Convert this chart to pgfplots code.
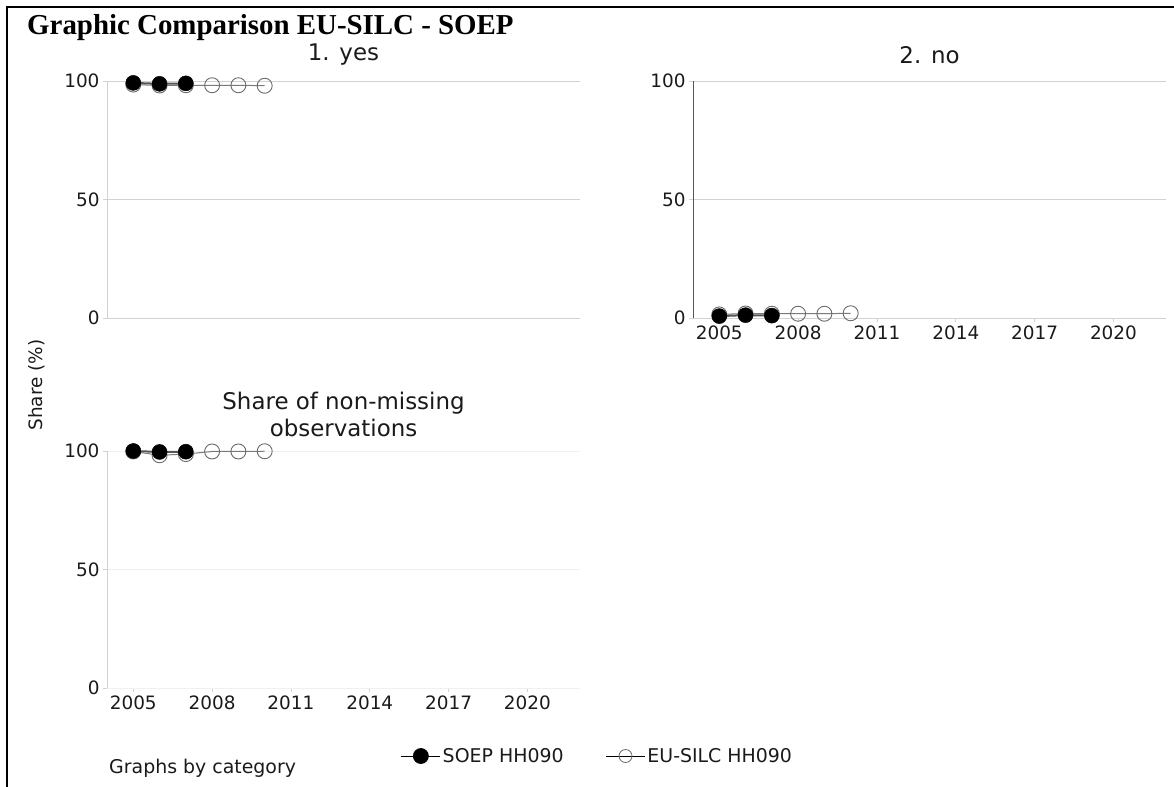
\documentclass[border=0pt]{standalone}
\usepackage{pgfplots}
\pgfplotsset{compat=1.18}
\usepackage{fontspec}
\setmainfont{DejaVu Sans}
\newfontfamily\titlefont{Liberation Serif}
\definecolor{gridc}{HTML}{D2D2D2}
\definecolor{gridl}{HTML}{F0F0F0}
\definecolor{soepline}{HTML}{555555}
\definecolor{eucol}{HTML}{7A7A7A}
\definecolor{eumark}{HTML}{6A6A6A}
\definecolor{txt}{HTML}{1A1A1A}
\pgfplotsset{
  panel/.style={
    scale only axis, width=473bp, height=237bp,
    xmin=2004, xmax=2022, ymin=0, ymax=100,
    ytick={0,50,100}, ymajorgrids,
    grid style={gridc, line width=0.8bp},
    axis x line*=bottom, axis y line*=left,
    x axis line style={gridc,-}, y axis line style={gridc,-},
    tick align=outside, major tick length=4bp,
    tick style={gridc, line width=0.8bp},
    clip=false,
    ticklabel style={font=\fontsize{18.5}{20}\selectfont, text=txt},
    /pgf/number format/assume math mode=true,
    /pgf/number format/1000 sep={},
    title style={font=\fontsize{23}{27}\selectfont, text=txt, align=center},
  },
  eus/.style={color=eucol, line width=1bp, mark=o, mark size=7.5bp,
    mark options={draw=eumark, fill=none, line width=0.9bp}},
  soep/.style={color=soepline, line width=2bp, mark=*, mark size=7.5bp,
    mark options={draw=black, fill=black, line width=0.5bp}},
}
\begin{document}
\begin{tikzpicture}
\path[use as bounding box] (0,0) rectangle (1174bp,787bp);
\draw[black, line width=2.5bp] (7bp,0) -- (7bp,780bp) -- (1174bp,780bp);
\node[anchor=base west, font=\titlefont\bfseries\fontsize{29}{32}\selectfont, inner sep=0pt] at (27bp,752bp) {Graphic Comparison EU-SILC - SOEP};
\node[rotate=90, font=\fontsize{18.5}{20}\selectfont, text=txt, inner sep=0pt] at (37bp,402bp) {Share (\%)};
\node[anchor=west, font=\fontsize{19}{20}\selectfont, text=txt, inner sep=0pt] at (109bp,19bp) {Graphs by category};

% Panel 1: yes
\begin{axis}[panel, at={(107bp,469bp)}, anchor=south west, xtick=\empty,
  title={1. yes}, title style={at={(0.5,1)}, anchor=center, yshift=20bp}]
\addplot[eus] coordinates {(2005,98.5)(2006,98.1)(2007,98.2)(2008,98.2)(2009,98.2)(2010,98.0)};
\addplot[soep] coordinates {(2005,99.2)(2006,98.8)(2007,99.0)};
\end{axis}

% Panel 2: no
\begin{axis}[panel, at={(693bp,469bp)}, anchor=south west,
  xtick={2005,2008,2011,2014,2017,2020},
  y axis line style={soepline},
  title={2. no}, title style={at={(0.5,1)}, anchor=center, yshift=20bp}]
\addplot[eus] coordinates {(2005,1.5)(2006,1.9)(2007,1.8)(2008,1.8)(2009,1.8)(2010,2.0)};
\addplot[soep] coordinates {(2005,0.8)(2006,1.2)(2007,1.0)};
\end{axis}

% Panel 3: non-missing
\begin{axis}[panel, at={(107bp,99bp)}, anchor=south west,
  xtick={2005,2008,2011,2014,2017,2020},
  grid style={gridl, line width=0.8bp},
  x axis line style={gridl}, y axis line style={gridc},
  title={Share of non-missing\\observations}, title style={at={(0.5,1)}, anchor=center, yshift=31bp},
  legend columns=2,
  legend style={draw=none, fill=none, at={(1.037,-0.287)}, anchor=center,
    font=\fontsize{19}{20}\selectfont, text=txt,
    /tikz/every even column/.append style={column sep=40bp}},
  legend image code/.code={\draw[mark repeat=2,mark phase=2,#1] plot coordinates {(0bp,0bp) (19.5bp,0bp) (39bp,0bp)};},
]
\addlegendimage{black, line width=0.8bp, mark=*, mark size=7.5bp, mark options={fill=black}}
\addlegendentry{SOEP HH090}
\addlegendimage{black, line width=0.8bp, mark=o, mark size=6.5bp, mark options={draw=eumark, fill=none, line width=0.8bp}}
\addlegendentry{EU-SILC HH090}
\addplot[eus, forget plot] coordinates {(2005,99.8)(2006,98.2)(2007,98.7)(2008,99.8)(2009,99.8)(2010,99.9)};
\addplot[soep, forget plot] coordinates {(2005,100)(2006,99.6)(2007,99.7)};
\end{axis}
\end{tikzpicture}
\end{document}
